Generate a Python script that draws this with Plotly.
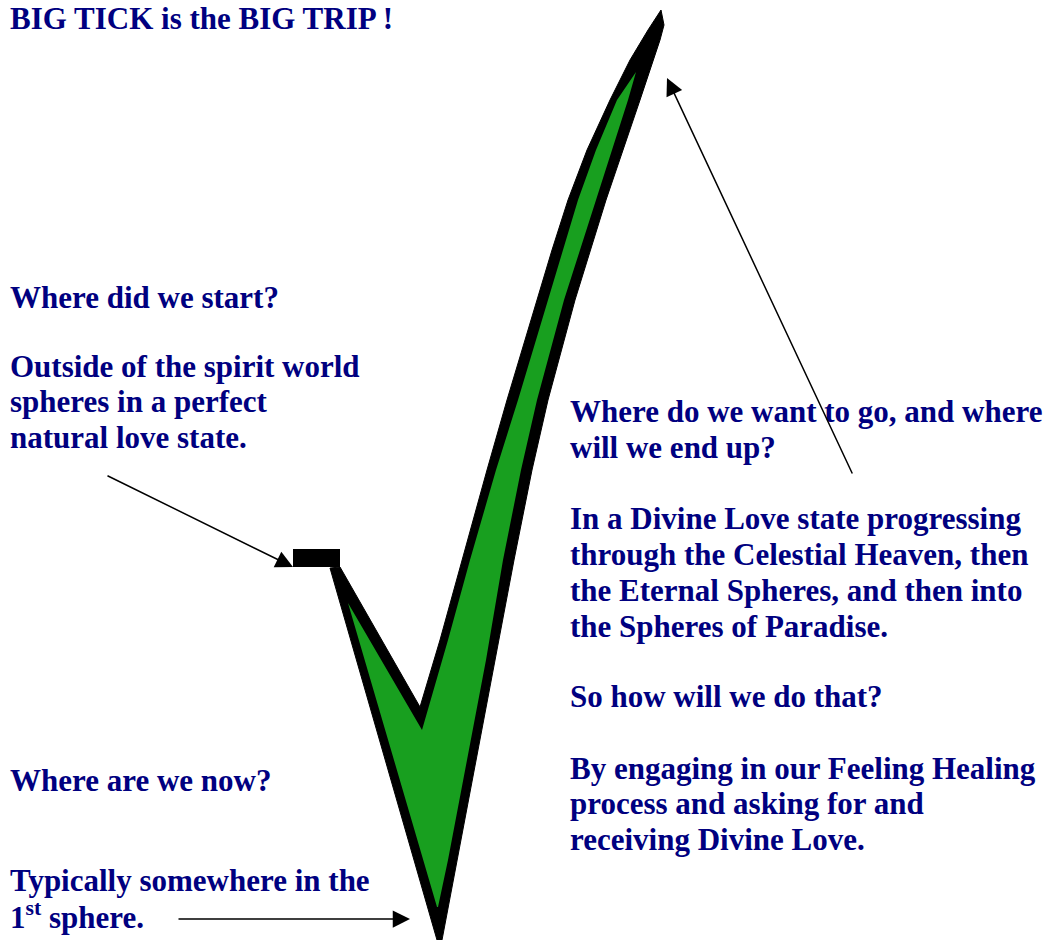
import plotly.graph_objects as go

# ---- diagram data (pixel space: x right, y down) ----
# outer black tick outline
tick_outer_x = [330, 437, 442, 457, 476, 495, 514, 532, 548, 575, 606, 640, 653, 660, 664, 661,
                648, 630, 610, 587, 568, 552, 537, 507, 487, 462, 440, 420, 340]
tick_outer_y = [568, 940, 940, 860, 760, 660, 560, 470, 400, 300, 200, 100, 60, 40, 25, 10,
                30, 60, 100, 150, 200, 250, 300, 400, 470, 560, 640, 707, 567]
# green body of the tick
tick_inner_x = [348, 437, 438, 448, 467, 486, 503, 521, 537, 564, 596, 612, 628, 636,
                617, 596, 578, 548, 518, 496, 470, 448, 422]
tick_inner_y = [603, 907, 907, 860, 760, 660, 560, 470, 400, 300, 200, 150, 100, 72,
                100, 150, 200, 300, 400, 470, 560, 640, 730]
# the small black "start" block
block_x = [293, 340, 340, 293]
block_y = [549, 549, 567, 567]

title_text = "BIG TICK is the BIG TRIP !"
left_lines = ["Where did we start?",
              "Outside of the spirit world",
              "spheres in a perfect",
              "natural love state."]
bottom_lines = ["Where are we now?",
                "Typically somewhere in the",
                "1<sup>st</sup> sphere."]
right_lines = ["Where do we want to go, and where",
               "will we end up?",
               "In a Divine Love state progressing",
               "through the Celestial Heaven, then",
               "the Eternal Spheres, and then into",
               "the Spheres of Paradise.",
               "So how will we do that?",
               "By engaging in our Feeling Healing",
               "process and asking for and",
               "receiving Divine Love."]

# ---- layout constants ----
W, H = 1054, 940
NAVY = "#000080"
GREEN = "#189F1F"
FONT = dict(family="Liberation Serif, Times New Roman, serif", size=31, color=NAVY)

title_pos = (9, 0)
left_pos = [(8, 297), (8, 366), (8, 401), (8, 437)]
bottom_pos = [(8, 780), (8, 880), (8, 915)]
right_pos = [(568, 411), (568, 447), (568, 518), (568, 554), (568, 590), (568, 626),
             (568, 696), (568, 768), (568, 803), (568, 839)]

arrows = [  # (tail_x, tail_y, head_x, head_y)
    (106, 475, 293, 567),
    (177, 919, 410, 919),
    (853, 475, 667, 78),
]

fig = go.Figure()
fig.add_trace(go.Scatter(x=tick_outer_x + [tick_outer_x[0]], y=tick_outer_y + [tick_outer_y[0]],
                         mode="lines", fill="toself", fillcolor="black",
                         line=dict(color="black", width=1), hoverinfo="skip", showlegend=False))
fig.add_trace(go.Scatter(x=tick_inner_x + [tick_inner_x[0]], y=tick_inner_y + [tick_inner_y[0]],
                         mode="lines", fill="toself", fillcolor=GREEN,
                         line=dict(color=GREEN, width=0), hoverinfo="skip", showlegend=False))
fig.add_trace(go.Scatter(x=block_x + [block_x[0]], y=block_y + [block_y[0]],
                         mode="lines", fill="toself", fillcolor="black",
                         line=dict(color="black", width=0), hoverinfo="skip", showlegend=False))

annotations = []
def add_text(t, pos, yanchor="middle"):
    annotations.append(dict(x=pos[0], y=pos[1], xref="x", yref="y", text="<b>" + t + "</b>",
                            showarrow=False, xanchor="left", yanchor=yanchor, font=FONT,
                            borderpad=0 if yanchor == "top" else 1))

add_text(title_text, title_pos, yanchor="top")
for t, p in zip(left_lines, left_pos):
    add_text(t, p)
for t, p in zip(bottom_lines, bottom_pos):
    add_text(t, p)
for t, p in zip(right_lines, right_pos):
    add_text(t, p)

for tx, ty, hx, hy in arrows:
    annotations.append(dict(x=hx, y=hy, ax=tx, ay=ty, xref="x", yref="y", axref="x", ayref="y",
                            text="", showarrow=True, arrowhead=2, arrowsize=2.3, arrowwidth=1.5,
                            arrowcolor="black"))

fig.update_layout(
    width=W, height=H,
    margin=dict(l=0, r=0, t=0, b=0),
    paper_bgcolor="white", plot_bgcolor="white",
    xaxis=dict(range=[0, W], visible=False, fixedrange=True),
    yaxis=dict(range=[H, 0], visible=False, fixedrange=True),
    annotations=annotations,
    showlegend=False,
)
fig.write_html("out.html", config={"displayModeBar": False},
               post_script="document.body.style.margin='0px';document.body.style.overflow='hidden';")
